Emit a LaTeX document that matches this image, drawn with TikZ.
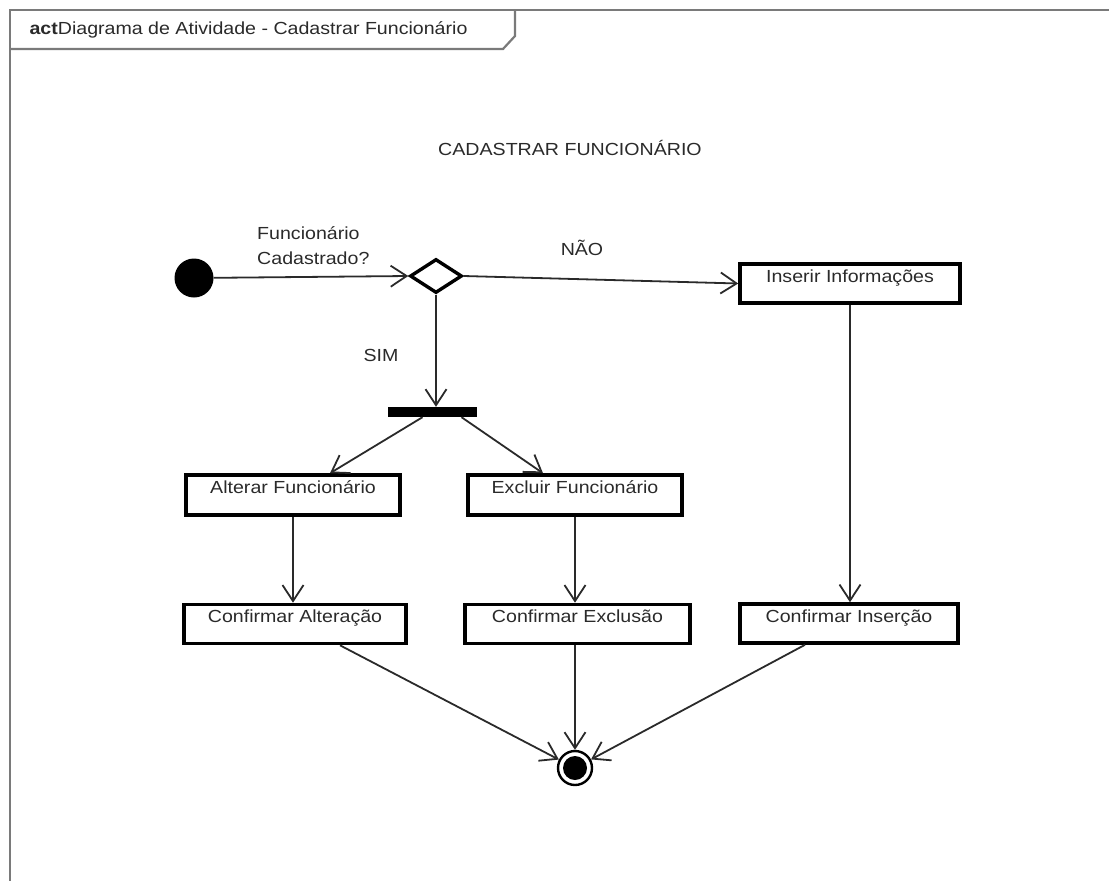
\documentclass[tikz,border=0pt]{standalone}
\usepackage{fontspec}
\setmainfont{Liberation Sans}[FakeStretch=1.12]
\usetikzlibrary{shapes.geometric,arrows.meta,calc}
\definecolor{ink}{HTML}{2A2A2A}
\definecolor{framegray}{HTML}{7A7A7A}
\definecolor{flowgray}{HTML}{2A2A2A}
\begin{document}
\begin{tikzpicture}[x=1pt,y=-1pt,
  every node/.style={font=\fontsize{17.5}{25}\selectfont, text=ink},
  frameline/.style={draw=framegray, line width=2.2pt},
  actbox/.style={draw=black, line width=3.6pt, inner sep=0pt, minimum height=39pt,
    label={[anchor=north, inner sep=0pt, yshift=-7pt]north:#1}},
  flow/.style={draw=flowgray, line width=1.8pt,
    -{Straight Barb[length=16pt, width=21pt, line width=1.8pt]}},
  ]
\useasboundingbox (0,0) rectangle (1109,881);

% diagram frame and its name tab
\draw[frameline] (10,881) -- (10,10) -- (1109,10);
\draw[frameline] (10,49) -- (503,49) -- (515,36) -- (515,10);
\node[anchor=west] (hdr) at (26,30) {\textbf{act}Diagrama de Atividade - Cadastrar Funcionário};

\node (title) at (570,148) {CADASTRAR FUNCIONÁRIO};

% control nodes
\node[circle, fill=black, minimum size=39pt, inner sep=0pt] (ini) at (194,278) {};
\node[diamond, draw=black, fill=white, line width=3.4pt, minimum width=52pt,
      minimum height=34pt, inner sep=0pt] (dec) at (436,276) {};
\node[fill=black, minimum width=89pt, minimum height=10pt, inner sep=0pt] (fork) at (432.5,412) {};
\node[circle, draw=black, line width=2.4pt, minimum size=34pt, inner sep=0pt] (fin) at (575,768) {};
\node[circle, fill=black, minimum size=24pt, inner sep=0pt] (fincore) at (fin) {};

% actions
\node[actbox=Inserir Informações, minimum width=220pt] (ins) at (850,283.5) {};
\node[actbox=Alterar Funcionário, minimum width=214pt, minimum height=40pt] (alt) at (293,495) {};
\node[actbox=Excluir Funcionário, minimum width=214pt, minimum height=40pt] (exc) at (575,495) {};
\node[actbox=Confirmar Alteração, minimum width=222pt] (calt) at (295,624) {};
\node[actbox=Confirmar Exclusão, minimum width=225pt] (cexc) at (577.5,624) {};
\node[actbox=Confirmar Inserção, minimum width=218pt] (cins) at (849,623.5) {};

% guard labels
\node[anchor=north west, align=left, inner sep=0pt] (guard) at (257,226) {Funcionário\\Cadastrado?};
\node (nao) at (582,248) {NÃO};
\node (sim) at (381,355) {SIM};

% control flows
\draw[flow] (ini) -- (dec.west);
\draw[flow] (dec.east) -- (ins.west);
\draw[flow] (dec.south) -- (dec.south |- fork.north);
\draw[flow] ($(fork.south)+(-10,0)$) -- ($(alt.north)+(37,0)$);
\draw[flow] ($(fork.south)+(29,0)$) -- ($(exc.north)+(-32,0)$);
\draw[flow] (alt.south) -- (alt.south |- calt.north);
\draw[flow] (exc.south) -- (exc.south |- cexc.north);
\draw[flow] (ins.south) -- (ins.south |- cins.north);
\draw[flow] ($(calt.south)+(45,0)$) -- (fin);
\draw[flow] (fin |- cexc.south) -- (fin.north);
\draw[flow] ($(cins.south)+(-44,0)$) -- (fin);
\end{tikzpicture}
\end{document}
